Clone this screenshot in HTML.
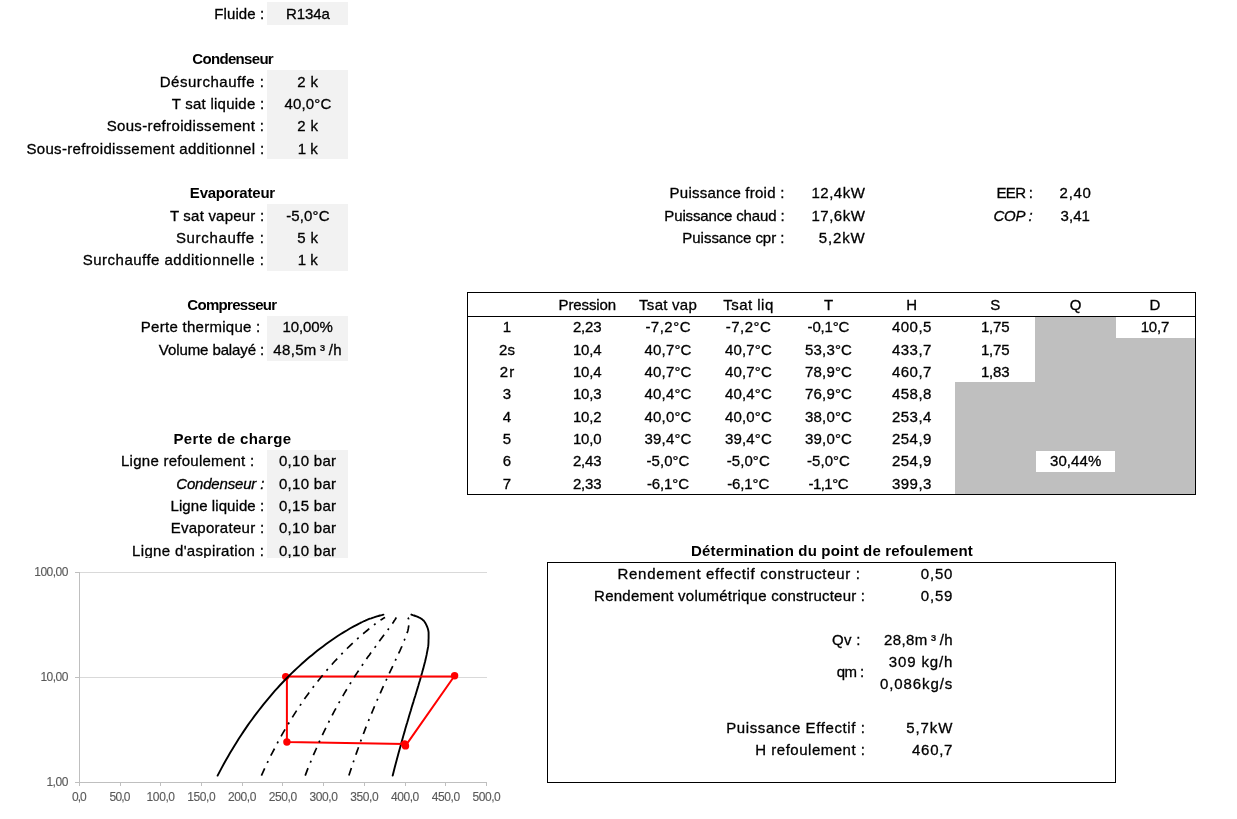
<!DOCTYPE html>
<html lang="fr"><head><meta charset="utf-8"><title>Cycle frigorifique R134a</title>
<style>
html,body{margin:0;padding:0;background:#fff}
body{width:1237px;height:819px;position:relative;overflow:hidden;font-family:"Liberation Sans", sans-serif;font-size:15px;color:#000}
.t{position:absolute;width:300px;height:20px;line-height:20px;text-align:center;white-space:pre;-webkit-text-stroke:0.3px currentColor}
.cover{position:absolute;left:0;top:558px;width:540px;height:6px;background:#fff}
.r{position:absolute}
.b{position:absolute;border:1px solid #000}
.chart{position:absolute;left:0;top:0}
</style></head><body>
<div class="r" style="left:267px;top:2px;width:81px;height:23px;background:#f2f2f2"></div>
<div class="r" style="left:267px;top:70px;width:81px;height:89px;background:#f2f2f2"></div>
<div class="r" style="left:267px;top:204px;width:81px;height:67px;background:#f2f2f2"></div>
<div class="r" style="left:267px;top:316px;width:81px;height:45px;background:#f2f2f2"></div>
<div class="r" style="left:267px;top:450px;width:81px;height:108px;background:#f2f2f2"></div>
<div class="r" style="left:955px;top:382px;width:80px;height:112px;background:#bfbfbf"></div>
<div class="r" style="left:1035px;top:316px;width:81px;height:178px;background:#bfbfbf"></div>
<div class="r" style="left:1116px;top:338px;width:79px;height:156px;background:#bfbfbf"></div>
<div class="r" style="left:1036px;top:451px;width:79px;height:21px;background:#fff"></div>
<div class="b" style="left:467px;top:292px;width:727px;height:201px"></div>
<div class="r" style="left:467px;top:316px;width:729px;height:1px;background:#000"></div>
<div class="b" style="left:547px;top:562px;width:567px;height:219px"></div>
<span class="t" style="left:89.3px;top:3.6px;font-size:15px;letter-spacing:0.087px;">Fluide :</span>
<span class="t" style="left:157.9px;top:3.6px;font-size:15px;letter-spacing:-0.101px;">R134a</span>
<span class="t" style="left:82.7px;top:49.4px;font-size:15px;font-weight:bold;-webkit-text-stroke:0;letter-spacing:-0.682px;">Condenseur</span>
<span class="t" style="left:62.1px;top:71.7px;font-size:15px;letter-spacing:0.530px;">Désurchauffe :</span>
<span class="t" style="left:157.9px;top:71.7px;font-size:15px;letter-spacing:0.361px;">2 k</span>
<span class="t" style="left:68.0px;top:94.1px;font-size:15px;letter-spacing:0.250px;">T sat liquide :</span>
<span class="t" style="left:158.0px;top:94.1px;font-size:15px;letter-spacing:0.178px;">40,0°C</span>
<span class="t" style="left:35.5px;top:116.4px;font-size:15px;letter-spacing:0.347px;">Sous-refroidissement :</span>
<span class="t" style="left:157.9px;top:116.4px;font-size:15px;letter-spacing:0.361px;">2 k</span>
<span class="t" style="left:-4.6px;top:138.7px;font-size:15px;letter-spacing:0.330px;">Sous-refroidissement additionnel :</span>
<span class="t" style="left:157.7px;top:138.7px;font-size:15px;letter-spacing:-0.039px;">1 k</span>
<span class="t" style="left:82.4px;top:183.4px;font-size:15px;font-weight:bold;-webkit-text-stroke:0;letter-spacing:-0.222px;">Evaporateur</span>
<span class="t" style="left:67.1px;top:205.7px;font-size:15px;letter-spacing:0.212px;">T sat vapeur :</span>
<span class="t" style="left:157.9px;top:205.7px;font-size:15px;letter-spacing:0.119px;">-5,0°C</span>
<span class="t" style="left:70.2px;top:228.1px;font-size:15px;letter-spacing:0.665px;">Surchauffe :</span>
<span class="t" style="left:157.9px;top:228.1px;font-size:15px;letter-spacing:0.361px;">5 k</span>
<span class="t" style="left:23.6px;top:250.4px;font-size:15px;letter-spacing:0.484px;">Surchauffe additionnelle :</span>
<span class="t" style="left:157.7px;top:250.4px;font-size:15px;letter-spacing:-0.039px;">1 k</span>
<span class="t" style="left:81.9px;top:295.1px;font-size:15px;font-weight:bold;-webkit-text-stroke:0;letter-spacing:-0.682px;">Compresseur</span>
<span class="t" style="left:50.7px;top:317.4px;font-size:15px;letter-spacing:0.273px;">Perte thermique :</span>
<span class="t" style="left:157.7px;top:317.4px;font-size:15px;letter-spacing:-0.113px;">10,00%</span>
<span class="t" style="left:61.5px;top:339.7px;font-size:15px;letter-spacing:-0.097px;">Volume balayé :</span>
<span class="t" style="left:157.6px;top:339.7px;font-size:15px;letter-spacing:0.356px;word-spacing:-1.2px;">48,5m ³ /h</span>
<span class="t" style="left:82.4px;top:429.1px;font-size:15px;font-weight:bold;-webkit-text-stroke:0;letter-spacing:0.362px;">Perte de charge</span>
<span class="t" style="left:37.7px;top:451.4px;font-size:15px;letter-spacing:0.262px;">Ligne refoulement :</span>
<span class="t" style="left:157.7px;top:451.4px;font-size:15px;letter-spacing:0.294px;">0,10 bar</span>
<span class="t" style="left:70.2px;top:473.7px;font-size:15px;font-style:italic;letter-spacing:-0.180px;">Condenseur :</span>
<span class="t" style="left:157.7px;top:473.7px;font-size:15px;letter-spacing:0.294px;">0,10 bar</span>
<span class="t" style="left:67.4px;top:496.1px;font-size:15px;letter-spacing:0.075px;">Ligne liquide :</span>
<span class="t" style="left:157.7px;top:496.1px;font-size:15px;letter-spacing:0.294px;">0,15 bar</span>
<span class="t" style="left:67.5px;top:518.4px;font-size:15px;letter-spacing:0.280px;">Evaporateur :</span>
<span class="t" style="left:157.7px;top:518.4px;font-size:15px;letter-spacing:0.294px;">0,10 bar</span>
<span class="t" style="left:48.2px;top:540.7px;font-size:15px;letter-spacing:0.342px;">Ligne d'aspiration :</span>
<span class="t" style="left:157.7px;top:540.7px;font-size:15px;letter-spacing:0.294px;">0,10 bar</span>
<span class="t" style="left:577.1px;top:183.4px;font-size:15px;letter-spacing:0.242px;">Puissance froid :</span>
<span class="t" style="left:688.4px;top:183.4px;font-size:15px;letter-spacing:0.490px;">12,4kW</span>
<span class="t" style="left:574.4px;top:205.7px;font-size:15px;letter-spacing:-0.146px;">Puissance chaud :</span>
<span class="t" style="left:688.4px;top:205.7px;font-size:15px;letter-spacing:0.490px;">17,6kW</span>
<span class="t" style="left:583.4px;top:228.1px;font-size:15px;letter-spacing:-0.030px;">Puissance cpr :</span>
<span class="t" style="left:692.2px;top:228.1px;font-size:15px;letter-spacing:0.837px;">5,2kW</span>
<span class="t" style="left:864.4px;top:183.4px;font-size:15px;letter-spacing:-0.678px;">EER :</span>
<span class="t" style="left:925.6px;top:183.4px;font-size:15px;letter-spacing:0.699px;">2,40</span>
<span class="t" style="left:863.0px;top:205.7px;font-size:15px;font-style:italic;letter-spacing:-0.259px;">COP :</span>
<span class="t" style="left:925.3px;top:205.7px;font-size:15px;letter-spacing:0.074px;">3,41</span>
<span class="t" style="left:437.3px;top:295.1px;font-size:15px;letter-spacing:-0.095px;">Pression</span>
<span class="t" style="left:518.1px;top:295.1px;font-size:15px;letter-spacing:0.266px;">Tsat vap</span>
<span class="t" style="left:598.5px;top:295.1px;font-size:15px;letter-spacing:0.464px;">Tsat liq</span>
<span class="t" style="left:679.3px;top:295.1px;font-size:15px;letter-spacing:1.600px;">T</span>
<span class="t" style="left:762.3px;top:295.1px;font-size:15px;letter-spacing:1.156px;">H</span>
<span class="t" style="left:845.3px;top:295.1px;font-size:15px;letter-spacing:-0.016px;">S</span>
<span class="t" style="left:926.3px;top:295.1px;font-size:15px;letter-spacing:1.328px;">Q</span>
<span class="t" style="left:1005.1px;top:295.1px;font-size:15px;letter-spacing:0.156px;">D</span>
<span class="t" style="left:356.8px;top:317.4px;font-size:15px;letter-spacing:-0.344px;">1</span>
<span class="t" style="left:437.2px;top:317.4px;font-size:15px;letter-spacing:-0.176px;">2,23</span>
<span class="t" style="left:518.2px;top:317.4px;font-size:15px;letter-spacing:0.485px;">-7,2°C</span>
<span class="t" style="left:598.5px;top:317.4px;font-size:15px;letter-spacing:0.485px;">-7,2°C</span>
<span class="t" style="left:678.4px;top:317.4px;font-size:15px;letter-spacing:-0.181px;">-0,1°C</span>
<span class="t" style="left:761.9px;top:317.4px;font-size:15px;letter-spacing:0.491px;">400,5</span>
<span class="t" style="left:845.2px;top:317.4px;font-size:15px;letter-spacing:-0.176px;">1,75</span>
<span class="t" style="left:1004.9px;top:317.4px;font-size:15px;letter-spacing:-0.176px;">10,7</span>
<span class="t" style="left:357.0px;top:339.7px;font-size:15px;letter-spacing:0.078px;">2s</span>
<span class="t" style="left:437.2px;top:339.7px;font-size:15px;letter-spacing:-0.176px;">10,4</span>
<span class="t" style="left:518.1px;top:339.7px;font-size:15px;letter-spacing:0.161px;">40,7°C</span>
<span class="t" style="left:598.4px;top:339.7px;font-size:15px;letter-spacing:0.161px;">40,7°C</span>
<span class="t" style="left:678.6px;top:339.7px;font-size:15px;letter-spacing:0.161px;">53,3°C</span>
<span class="t" style="left:761.9px;top:339.7px;font-size:15px;letter-spacing:0.491px;">433,7</span>
<span class="t" style="left:845.2px;top:339.7px;font-size:15px;letter-spacing:-0.176px;">1,75</span>
<span class="t" style="left:357.7px;top:362.1px;font-size:15px;letter-spacing:1.328px;">2r</span>
<span class="t" style="left:437.2px;top:362.1px;font-size:15px;letter-spacing:-0.176px;">10,4</span>
<span class="t" style="left:518.1px;top:362.1px;font-size:15px;letter-spacing:0.161px;">40,7°C</span>
<span class="t" style="left:598.4px;top:362.1px;font-size:15px;letter-spacing:0.161px;">40,7°C</span>
<span class="t" style="left:678.6px;top:362.1px;font-size:15px;letter-spacing:0.161px;">78,9°C</span>
<span class="t" style="left:761.9px;top:362.1px;font-size:15px;letter-spacing:0.491px;">460,7</span>
<span class="t" style="left:845.2px;top:362.1px;font-size:15px;letter-spacing:-0.176px;">1,83</span>
<span class="t" style="left:356.8px;top:384.4px;font-size:15px;letter-spacing:-0.344px;">3</span>
<span class="t" style="left:437.2px;top:384.4px;font-size:15px;letter-spacing:-0.176px;">10,3</span>
<span class="t" style="left:518.1px;top:384.4px;font-size:15px;letter-spacing:0.161px;">40,4°C</span>
<span class="t" style="left:598.4px;top:384.4px;font-size:15px;letter-spacing:0.161px;">40,4°C</span>
<span class="t" style="left:678.6px;top:384.4px;font-size:15px;letter-spacing:0.161px;">76,9°C</span>
<span class="t" style="left:761.9px;top:384.4px;font-size:15px;letter-spacing:0.491px;">458,8</span>
<span class="t" style="left:356.8px;top:406.7px;font-size:15px;letter-spacing:-0.344px;">4</span>
<span class="t" style="left:437.2px;top:406.7px;font-size:15px;letter-spacing:-0.176px;">10,2</span>
<span class="t" style="left:518.1px;top:406.7px;font-size:15px;letter-spacing:0.161px;">40,0°C</span>
<span class="t" style="left:598.4px;top:406.7px;font-size:15px;letter-spacing:0.161px;">40,0°C</span>
<span class="t" style="left:678.6px;top:406.7px;font-size:15px;letter-spacing:0.161px;">38,0°C</span>
<span class="t" style="left:761.9px;top:406.7px;font-size:15px;letter-spacing:0.491px;">253,4</span>
<span class="t" style="left:356.8px;top:429.1px;font-size:15px;letter-spacing:-0.344px;">5</span>
<span class="t" style="left:437.2px;top:429.1px;font-size:15px;letter-spacing:-0.176px;">10,0</span>
<span class="t" style="left:518.1px;top:429.1px;font-size:15px;letter-spacing:0.161px;">39,4°C</span>
<span class="t" style="left:598.4px;top:429.1px;font-size:15px;letter-spacing:0.161px;">39,4°C</span>
<span class="t" style="left:678.6px;top:429.1px;font-size:15px;letter-spacing:0.161px;">39,0°C</span>
<span class="t" style="left:761.9px;top:429.1px;font-size:15px;letter-spacing:0.491px;">254,9</span>
<span class="t" style="left:356.8px;top:451.4px;font-size:15px;letter-spacing:-0.344px;">6</span>
<span class="t" style="left:437.2px;top:451.4px;font-size:15px;letter-spacing:-0.176px;">2,43</span>
<span class="t" style="left:518.0px;top:451.4px;font-size:15px;letter-spacing:0.052px;">-5,0°C</span>
<span class="t" style="left:598.3px;top:451.4px;font-size:15px;letter-spacing:0.052px;">-5,0°C</span>
<span class="t" style="left:678.5px;top:451.4px;font-size:15px;letter-spacing:0.052px;">-5,0°C</span>
<span class="t" style="left:761.9px;top:451.4px;font-size:15px;letter-spacing:0.491px;">254,9</span>
<span class="t" style="left:925.7px;top:451.4px;font-size:15px;letter-spacing:0.104px;">30,44%</span>
<span class="t" style="left:356.8px;top:473.7px;font-size:15px;letter-spacing:-0.344px;">7</span>
<span class="t" style="left:437.2px;top:473.7px;font-size:15px;letter-spacing:-0.176px;">2,33</span>
<span class="t" style="left:517.9px;top:473.7px;font-size:15px;letter-spacing:-0.115px;">-6,1°C</span>
<span class="t" style="left:598.2px;top:473.7px;font-size:15px;letter-spacing:-0.115px;">-6,1°C</span>
<span class="t" style="left:678.2px;top:473.7px;font-size:15px;letter-spacing:-0.531px;">-1,1°C</span>
<span class="t" style="left:761.9px;top:473.7px;font-size:15px;letter-spacing:0.491px;">399,3</span>
<span class="t" style="left:682.0px;top:540.8px;font-size:15px;font-weight:bold;-webkit-text-stroke:0;letter-spacing:0.163px;">Détermination du point de refoulement</span>
<span class="t" style="left:589.1px;top:563.8px;font-size:15px;letter-spacing:0.677px;">Rendement effectif constructeur :</span>
<span class="t" style="left:787.0px;top:563.8px;font-size:15px;letter-spacing:0.824px;">0,50</span>
<span class="t" style="left:579.7px;top:585.7px;font-size:15px;letter-spacing:0.231px;">Rendement volumétrique constructeur :</span>
<span class="t" style="left:787.0px;top:585.7px;font-size:15px;letter-spacing:0.824px;">0,59</span>
<span class="t" style="left:696.4px;top:629.8px;font-size:15px;letter-spacing:0.296px;">Qv :</span>
<span class="t" style="left:768.5px;top:629.8px;font-size:15px;letter-spacing:0.386px;word-spacing:-1.2px;">28,8m ³ /h</span>
<span class="t" style="left:700.1px;top:662.0px;font-size:15px;letter-spacing:-0.597px;">qm :</span>
<span class="t" style="left:771.0px;top:651.5px;font-size:15px;letter-spacing:0.869px;">309 kg/h</span>
<span class="t" style="left:766.6px;top:673.6px;font-size:15px;letter-spacing:0.917px;">0,086kg/s</span>
<span class="t" style="left:645.9px;top:717.6px;font-size:15px;letter-spacing:0.600px;">Puissance Effectif :</span>
<span class="t" style="left:779.7px;top:717.6px;font-size:15px;letter-spacing:0.897px;">5,7kW</span>
<span class="t" style="left:660.4px;top:739.9px;font-size:15px;letter-spacing:0.510px;">H refoulement :</span>
<span class="t" style="left:782.6px;top:739.9px;font-size:15px;letter-spacing:0.711px;">460,7</span>
<span class="t" style="left:-98.9px;top:562.1px;font-size:12px;letter-spacing:-0.517px;color:#595959;-webkit-text-stroke:0.12px currentColor;">100,00</span>
<span class="t" style="left:-95.8px;top:666.8px;font-size:12px;letter-spacing:-0.486px;color:#595959;-webkit-text-stroke:0.12px currentColor;">10,00</span>
<span class="t" style="left:-92.8px;top:771.5px;font-size:12px;letter-spacing:-0.440px;color:#595959;-webkit-text-stroke:0.12px currentColor;">1,00</span>
<span class="t" style="left:-71.2px;top:787.0px;font-size:12px;letter-spacing:-1.062px;color:#595959;-webkit-text-stroke:0.12px currentColor;">0,0</span>
<span class="t" style="left:-30.4px;top:787.0px;font-size:12px;letter-spacing:-0.840px;color:#595959;-webkit-text-stroke:0.12px currentColor;">50,0</span>
<span class="t" style="left:10.6px;top:787.0px;font-size:12px;letter-spacing:-0.406px;color:#595959;-webkit-text-stroke:0.12px currentColor;">100,0</span>
<span class="t" style="left:51.3px;top:787.0px;font-size:12px;letter-spacing:-0.406px;color:#595959;-webkit-text-stroke:0.12px currentColor;">150,0</span>
<span class="t" style="left:92.0px;top:787.0px;font-size:12px;letter-spacing:-0.406px;color:#595959;-webkit-text-stroke:0.12px currentColor;">200,0</span>
<span class="t" style="left:132.7px;top:787.0px;font-size:12px;letter-spacing:-0.406px;color:#595959;-webkit-text-stroke:0.12px currentColor;">250,0</span>
<span class="t" style="left:173.5px;top:787.0px;font-size:12px;letter-spacing:-0.406px;color:#595959;-webkit-text-stroke:0.12px currentColor;">300,0</span>
<span class="t" style="left:214.2px;top:787.0px;font-size:12px;letter-spacing:-0.406px;color:#595959;-webkit-text-stroke:0.12px currentColor;">350,0</span>
<span class="t" style="left:254.9px;top:787.0px;font-size:12px;letter-spacing:-0.406px;color:#595959;-webkit-text-stroke:0.12px currentColor;">400,0</span>
<span class="t" style="left:295.7px;top:787.0px;font-size:12px;letter-spacing:-0.406px;color:#595959;-webkit-text-stroke:0.12px currentColor;">450,0</span>
<span class="t" style="left:336.4px;top:787.0px;font-size:12px;letter-spacing:-0.406px;color:#595959;-webkit-text-stroke:0.12px currentColor;">500,0</span>
<div class="cover"></div>
<svg class="chart" width="1237" height="819" viewBox="0 0 1237 819">
<g stroke="#d9d9d9" stroke-width="1" shape-rendering="crispEdges">
<line x1="79.3" y1="572.5" x2="486.6" y2="572.5"/><line x1="79.3" y1="677.5" x2="486.6" y2="677.5"/>
</g>
<g stroke="#bfbfbf" stroke-width="1" shape-rendering="crispEdges">
<line x1="79.5" y1="572" x2="79.5" y2="783"/><line x1="75" y1="782.5" x2="486.6" y2="782.5"/>
<line x1="75" y1="572.5" x2="79.5" y2="572.5"/><line x1="75" y1="677.5" x2="79.5" y2="677.5"/>
<line x1="79.5" y1="782.5" x2="79.5" y2="786"/><line x1="120.5" y1="782.5" x2="120.5" y2="786"/><line x1="160.5" y1="782.5" x2="160.5" y2="786"/><line x1="201.5" y1="782.5" x2="201.5" y2="786"/><line x1="242.5" y1="782.5" x2="242.5" y2="786"/><line x1="282.5" y1="782.5" x2="282.5" y2="786"/><line x1="323.5" y1="782.5" x2="323.5" y2="786"/><line x1="364.5" y1="782.5" x2="364.5" y2="786"/><line x1="405.5" y1="782.5" x2="405.5" y2="786"/><line x1="445.5" y1="782.5" x2="445.5" y2="786"/><line x1="486.5" y1="782.5" x2="486.5" y2="786"/>
</g>
<path d="M392.7,775.6 L393.7,771.6 L394.7,767.6 L395.7,763.8 L396.7,760.0 L397.7,756.2 L398.7,752.6 L399.7,749.0 L400.7,745.4 L401.6,741.9 L402.6,738.5 L403.5,735.2 L404.5,731.9 L405.4,728.6 L406.3,725.4 L407.3,722.3 L408.2,719.2 L409.1,716.1 L410.0,713.1 L410.9,710.2 L411.7,707.3 L412.6,704.4 L413.5,701.6 L414.3,698.8 L415.2,696.1 L416.0,693.4 L416.8,690.7 L417.6,688.1 L418.4,685.5 L419.1,683.0 L419.9,680.5 L420.6,678.0 L421.3,675.5 L422.0,673.1 L422.6,670.7 L423.3,668.4 L423.9,666.1 L424.5,663.8 L425.1,661.5 L425.6,659.3 L426.1,657.1 L426.6,654.9 L427.0,652.7 L427.4,650.6 L427.8,648.5 L428.2,646.4 L428.4,644.3 L428.5,642.3 L428.5,640.3 L428.6,638.3 L428.6,636.3 L428.6,634.3 L428.6,632.4 L428.3,630.5 L427.8,628.5 L427.1,626.7 L426.3,624.8 L425.8,623.8 L425.6,623.4 L425.3,622.9 L425.0,622.4 L424.7,622.0 L424.4,621.5 L424.0,621.0 L423.5,620.6 L423.1,620.1 L422.5,619.7 L422.0,619.2 L421.4,618.7 L420.6,618.3 L419.8,617.8 L418.8,617.4 L417.8,616.9 L416.6,616.4 L415.4,616.0 L414.1,615.5 L412.8,615.1 L411.4,614.6" fill="none" stroke="#000" stroke-width="1.9" stroke-linecap="round" stroke-linejoin="round"/>
<path d="M405.5,745.9 L454.6,675.7 L453.0,676.2 L285.7,676.6 L286.9,677.5 L286.9,742.0 L404.6,743.9 L405.5,745.9" fill="none" stroke="#ff0000" stroke-width="2" stroke-linejoin="round"/>
<circle cx="405.5" cy="745.9" r="3.7" fill="#ff0000"/><circle cx="454.6" cy="675.7" r="3.7" fill="#ff0000"/><circle cx="285.7" cy="676.6" r="3.7" fill="#ff0000"/><circle cx="286.9" cy="742.0" r="3.7" fill="#ff0000"/><circle cx="404.6" cy="743.9" r="3.7" fill="#ff0000"/>
<path d="M217.6,775.6 L219.7,771.6 L221.8,767.6 L223.9,763.8 L226.0,760.0 L228.2,756.2 L230.3,752.6 L232.5,749.0 L234.6,745.4 L236.8,741.9 L238.9,738.5 L241.1,735.2 L243.3,731.9 L245.5,728.6 L247.7,725.4 L249.9,722.3 L252.2,719.2 L254.4,716.1 L256.7,713.1 L258.9,710.2 L261.2,707.3 L263.5,704.4 L265.8,701.6 L268.1,698.8 L270.4,696.1 L272.7,693.4 L275.0,690.7 L277.4,688.1 L279.7,685.5 L282.1,683.0 L284.5,680.5 L286.9,678.0 L289.4,675.5 L291.8,673.1 L294.3,670.7 L296.8,668.4 L299.3,666.1 L301.8,663.8 L304.4,661.5 L306.9,659.3 L309.5,657.1 L312.2,654.9 L314.8,652.7 L317.5,650.6 L320.2,648.5 L323.0,646.4 L325.8,644.3 L328.6,642.3 L331.5,640.3 L334.4,638.3 L337.3,636.3 L340.4,634.3 L343.5,632.4 L346.7,630.5 L349.9,628.5 L353.3,626.7 L356.8,624.8 L358.6,623.8 L359.5,623.4 L360.5,622.9 L361.4,622.4 L362.3,622.0 L363.3,621.5 L364.3,621.0 L365.3,620.6 L366.4,620.1 L367.5,619.7 L368.6,619.2 L369.9,618.7 L371.2,618.3 L372.5,617.8 L373.9,617.4 L375.4,616.9 L376.9,616.4 L378.4,616.0 L380.0,615.5 L381.7,615.1 L383.4,614.6" fill="none" stroke="#000" stroke-width="1.9" stroke-linecap="round" stroke-linejoin="round"/>
<g fill="none" stroke="#000" stroke-width="1.7" stroke-dasharray="8,6,2,6">
<path d="M261.4,775.6 L263.2,771.6 L265.0,767.6 L266.8,763.8 L268.7,760.0 L270.5,756.2 L272.4,752.6 L274.3,749.0 L276.1,745.4 L278.0,741.9 L279.9,738.5 L281.7,735.2 L283.6,731.9 L285.5,728.6 L287.4,725.4 L289.3,722.3 L291.2,719.2 L293.1,716.1 L295.0,713.1 L296.9,710.2 L298.8,707.3 L300.8,704.4 L302.7,701.6 L304.6,698.8 L306.6,696.1 L308.5,693.4 L310.5,690.7 L312.4,688.1 L314.4,685.5 L316.4,683.0 L318.4,680.5 L320.4,678.0 L322.4,675.5 L324.4,673.1 L326.4,670.7 L328.4,668.4 L330.4,666.1 L332.5,663.8 L334.5,661.5 L336.6,659.3 L338.7,657.1 L340.8,654.9 L342.9,652.7 L345.0,650.6 L347.1,648.5 L349.3,646.4 L351.4,644.3 L353.6,642.3 L355.7,640.3 L357.9,638.3 L360.1,636.3 L362.4,634.3 L364.8,632.4 L367.1,630.5 L369.4,628.5 L371.7,626.7 L374.2,624.8 L375.4,623.8 L376.1,623.4 L376.7,622.9 L377.3,622.4 L377.9,622.0 L378.6,621.5 L379.2,621.0 L379.9,620.6 L380.5,620.1 L381.2,619.7 L382.0,619.2 L382.7,618.7 L383.5,618.3 L384.3,617.8 L385.1,617.4"/><path d="M305.2,775.6 L306.7,771.6 L308.2,767.6 L309.8,763.8 L311.4,760.0 L312.9,756.2 L314.5,752.6 L316.1,749.0 L317.6,745.4 L319.2,741.9 L320.8,738.5 L322.3,735.2 L323.9,731.9 L325.5,728.6 L327.0,725.4 L328.6,722.3 L330.2,719.2 L331.8,716.1 L333.3,713.1 L334.9,710.2 L336.5,707.3 L338.0,704.4 L339.6,701.6 L341.2,698.8 L342.8,696.1 L344.3,693.4 L345.9,690.7 L347.5,688.1 L349.1,685.5 L350.6,683.0 L352.2,680.5 L353.8,678.0 L355.3,675.5 L356.9,673.1 L358.5,670.7 L360.0,668.4 L361.6,666.1 L363.2,663.8 L364.7,661.5 L366.3,659.3 L367.8,657.1 L369.4,654.9 L370.9,652.7 L372.5,650.6 L374.0,648.5 L375.6,646.4 L377.1,644.3 L378.5,642.3 L380.0,640.3 L381.5,638.3 L383.0,636.3 L384.5,634.3 L386.0,632.4 L387.5,630.5 L388.8,628.5 L390.2,626.7 L391.5,624.8 L392.2,623.8 L392.6,623.4 L392.9,622.9 L393.2,622.4 L393.5,622.0 L393.8,621.5 L394.1,621.0 L394.4,620.6 L394.7,620.1 L395.0,619.7 L395.3,619.2 L395.6,618.7 L395.9,618.3 L396.1,617.8 L396.4,617.4"/><path d="M348.9,775.6 L350.2,771.6 L351.5,767.6 L352.8,763.8 L354.0,760.0 L355.3,756.2 L356.6,752.6 L357.9,749.0 L359.1,745.4 L360.4,741.9 L361.7,738.5 L362.9,735.2 L364.2,731.9 L365.4,728.6 L366.7,725.4 L367.9,722.3 L369.2,719.2 L370.4,716.1 L371.7,713.1 L372.9,710.2 L374.1,707.3 L375.3,704.4 L376.5,701.6 L377.8,698.8 L379.0,696.1 L380.2,693.4 L381.4,690.7 L382.5,688.1 L383.7,685.5 L384.9,683.0 L386.0,680.5 L387.2,678.0 L388.3,675.5 L389.4,673.1 L390.6,670.7 L391.7,668.4 L392.8,666.1 L393.8,663.8 L394.9,661.5 L395.9,659.3 L397.0,657.1 L398.0,654.9 L399.0,652.7 L400.0,650.6 L400.9,648.5 L401.9,646.4 L402.7,644.3 L403.5,642.3 L404.3,640.3 L405.0,638.3 L405.8,636.3 L406.5,634.3 L407.3,632.4 L407.9,630.5 L408.3,628.5 L408.6,626.7 L408.9,624.8 L409.0,623.8 L409.1,623.4 L409.1,622.9 L409.1,622.4 L409.1,622.0 L409.1,621.5 L409.0,621.0 L409.0,620.6 L408.9,620.1 L408.8,619.7 L408.7,619.2 L408.5,618.7 L408.3,618.3 L408.0,617.8 L407.6,617.4"/>
</g>
</svg>
</body></html>
